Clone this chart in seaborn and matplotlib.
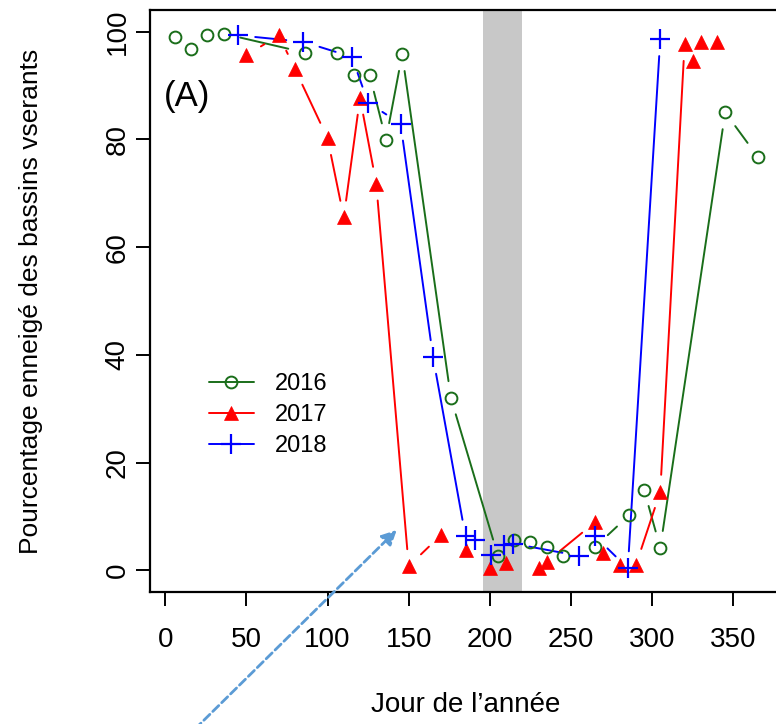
import numpy as np
import matplotlib
matplotlib.use("Agg")
import matplotlib.pyplot as plt
from matplotlib.lines import Line2D
import seaborn as sns

# Jour de l'année / pourcentage enneigé
day_2016 = [6, 16, 26, 36, 86, 106, 116, 126, 136, 146, 176, 205, 215, 225, 235, 245, 265, 286, 295, 305, 345, 365]
snow_2016 = [98.9, 96.7, 99.3, 99.6, 96.1, 96.1, 91.9, 91.9, 79.9, 95.8, 32.0, 2.7, 5.6, 5.3, 4.4, 2.6, 4.4, 10.3, 15.0, 4.2, 85.0, 76.8]

day_2017 = [50, 70, 80, 100, 110, 120, 130, 150, 170, 185, 200, 210, 230, 235, 265, 270, 280, 290, 305, 320, 325, 330, 340]
snow_2017 = [95.6, 99.3, 93.0, 80.2, 65.5, 87.7, 71.8, 0.8, 6.6, 3.8, 0.4, 1.3, 0.4, 1.6, 9.0, 3.2, 1.0, 1.0, 14.6, 97.7, 94.5, 98.1, 98.1]

day_2018 = [45, 85, 115, 125, 145, 165, 185, 191, 201, 209, 214, 255, 265, 285, 305]
snow_2018 = [99.3, 98.1, 95.3, 86.8, 82.9, 39.6, 6.3, 5.6, 2.9, 4.7, 5.0, 2.7, 6.3, 0.4, 98.6]

years = ["2016", "2017", "2018"]
band = (196, 220)
x_ticks = [0, 50, 100, 150, 200, 250, 300, 350]
y_ticks = [0, 20, 40, 60, 80, 100]

sns.set_style("white")
plt.rcParams["font.family"] = ["Liberation Sans", "DejaVu Sans"]
plt.rcParams.update({"text.color": "black", "axes.labelcolor": "black",
                     "xtick.color": "black", "ytick.color": "black"})

fig = plt.figure(figsize=(7.76, 7.24), dpi=100)
ax = fig.add_axes([150 / 776, 1 - 592 / 724, 631 / 776, 582 / 724])
ax.set_xlim(-9.4, 379.4)
ax.set_ylim(-4, 104)

ax.axvspan(band[0], band[1], color="#c8c8c8", lw=0, zorder=0)


def gapped(xs, ys, gap=17):
    # segments entre points avec un vide autour de chaque point (type "b" de R)
    pts = ax.transData.transform(np.column_stack([xs, ys]))
    inv = ax.transData.inverted()
    out = []
    for p0, p1 in zip(pts[:-1], pts[1:]):
        d = p1 - p0
        n = np.hypot(*d)
        if n <= 2 * gap:
            continue
        u = d / n
        out.append(inv.transform([p0 + u * gap, p1 - u * gap]))
    return out


styles = {
    "2016": dict(x=day_2016, y=snow_2016, color="#1a6e1a", marker="o", ms=8.5, mfc="none", mew=1.4),
    "2017": dict(x=day_2017, y=snow_2017, color="red", marker="^", ms=10, mfc="red", mew=0.5),
    "2018": dict(x=day_2018, y=snow_2018, color="blue", marker="+", ms=14, mfc="blue", mew=1.6),
}

handles = []
for yr in years:
    s = styles[yr]
    for seg in gapped(s["x"], s["y"]):
        ax.plot(seg[:, 0], seg[:, 1], color=s["color"], lw=1.4, zorder=2)
    sns.lineplot(x=s["x"], y=s["y"], ax=ax, linestyle="", marker=s["marker"],
                 markersize=s["ms"], markerfacecolor=s["mfc"], markeredgecolor=s["color"],
                 markeredgewidth=s["mew"], color=s["color"], sort=False, zorder=3)
    handles.append(Line2D([], [], color=s["color"], lw=1.4, marker=s["marker"],
                          markersize=s["ms"], markerfacecolor=s["mfc"],
                          markeredgecolor=s["color"], markeredgewidth=s["mew"], label=yr))

ax.legend(handles=handles, loc="upper left", bbox_to_anchor=(0.0935, 0.376), frameon=False,
          fontsize=17, handlelength=1.9, handletextpad=0.9, labelspacing=0.38,
          borderpad=0, borderaxespad=0)

ax.text(-1, 88, "(A)", fontsize=25, ha="left", va="center")

ax.set_xticks(x_ticks)
ax.set_yticks(y_ticks)
ax.tick_params(axis="both", direction="out", length=10, width=1.4, labelsize=20,
               bottom=True, left=True)
ax.tick_params(axis="x", pad=15)
ax.tick_params(axis="y", pad=4)
for lab in ax.get_yticklabels():
    lab.set_rotation(90)
    lab.set_va("center")

for sp in ax.spines.values():
    sp.set_color("black")
    sp.set_linewidth(1.6)

ax.set_xlabel("Jour de l\u2019année", fontsize=20, labelpad=28)
ax.set_ylabel("Pourcentage enneigé des bassins vserants", fontsize=19, labelpad=44)

# flèche pointillée ajoutée sur la figure
ax.annotate("", xy=(396.7 / 776, 194 / 724), xytext=(195 / 776, -5 / 724),
            xycoords="figure fraction", textcoords="figure fraction",
            arrowprops=dict(arrowstyle="-|>", color="#5b9bd5", lw=2,
                            linestyle=(0, (3, 1.5)), mutation_scale=22, shrinkA=0, shrinkB=0),
            annotation_clip=False)

fig.savefig("out.png", dpi=100)
